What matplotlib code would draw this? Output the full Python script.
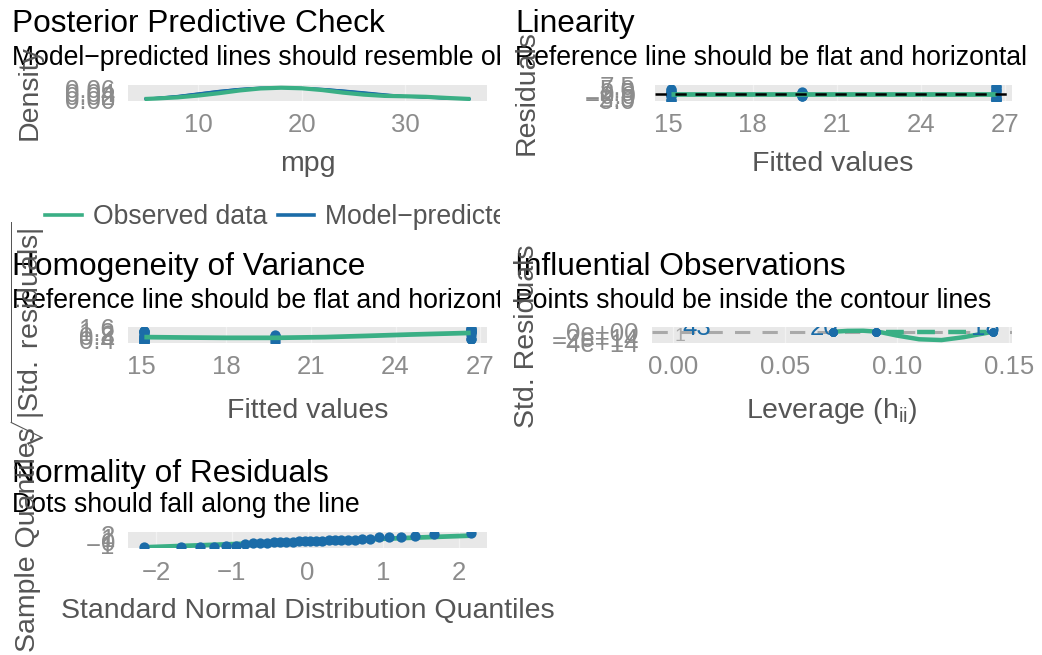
import matplotlib
matplotlib.use("Agg")
import matplotlib.pyplot as plt
from matplotlib.transforms import Bbox, TransformedBbox

plt.rcParams['font.family'] = ['Liberation Sans', 'DejaVu Sans']
plt.rcParams['mathtext.fontset'] = 'custom'
plt.rcParams['mathtext.rm'] = 'Liberation Sans'
plt.rcParams['mathtext.it'] = 'Liberation Sans:italic'
plt.rcParams['mathtext.bf'] = 'Liberation Sans:bold'

W, H = 1042, 655
GREEN = '#3aaf85'
BLUE = '#1b6ca8'
TICK_GREY = '#8c8c8c'
AXIS_GREY = '#555555'
PANEL = '#e8e8e8'
GRID = '#f2f2f2'

# ---- posterior predictive check: density curves over mpg ----
mpg_grid = [4.8, 6, 8, 10, 12, 14, 16, 18, 20, 22, 24, 26, 28, 30, 32, 34, 36.3]
obs_density = [0.003, 0.006, 0.012, 0.022, 0.035, 0.050, 0.061, 0.065, 0.062,
               0.052, 0.038, 0.027, 0.020, 0.018, 0.015, 0.009, 0.003]
pred_density = [
    [0.004, 0.009, 0.019, 0.033, 0.047, 0.059, 0.066, 0.066, 0.063, 0.059, 0.049, 0.038, 0.027, 0.018, 0.011, 0.006, 0.003],
    [0.003, 0.008, 0.017, 0.030, 0.044, 0.057, 0.064, 0.067, 0.064, 0.057, 0.047, 0.036, 0.025, 0.016, 0.010, 0.005, 0.002],
    [0.004, 0.010, 0.020, 0.034, 0.048, 0.058, 0.063, 0.064, 0.061, 0.058, 0.050, 0.040, 0.029, 0.019, 0.012, 0.006, 0.003],
]
ppc_yticks = [0.00, 0.02, 0.04, 0.06]
ppc_xticks = [10, 20, 30]

# ---- fitted values, residuals and leverage (three cylinder groups) ----
fitted = [15.1] * 14 + [19.74] * 7 + [26.66] * 11
residuals = [3.6, -0.8, 1.3, 2.2, 0.1, -4.7, -4.7, -0.4, 0.4, 0.1, -1.8, 0.7, -0.1, 4.1,
             1.26, 1.26, 1.66, -1.64, -0.54, -1.94, -0.04,
             -3.86, -2.26, -3.86, 5.74, 3.74, 7.24, -5.16, 0.64, -0.66, 3.74, -5.26]
sqrt_abs_std_resid = [1.077, 0.508, 0.647, 0.842, 0.179, 1.230, 1.230, 0.359, 0.359, 0.179, 0.761, 0.475, 0.179, 1.149,
                      0.650, 0.650, 0.746, 0.741, 0.425, 0.806, 0.116,
                      1.121, 0.858, 1.121, 1.367, 1.103, 1.535, 1.296, 0.456, 0.463, 1.103, 1.308]
std_resid = [1.159, -0.258, 0.419, 0.708, 0.032, -1.513, -1.513, -0.129, 0.129, 0.032, -0.580, 0.225, -0.032, 1.320,
             0.422, 0.422, 0.556, -0.550, -0.181, -0.650, -0.013,
             -1.256, -0.735, -1.256, 1.868, 1.217, 2.356, -1.679, 0.208, -0.215, 1.217, -1.712]
leverage = [0.0714] * 14 + [0.1429] * 7 + [0.0909] * 11

lin_smooth_x = [15.1, 19.74, 26.66]
lin_smooth_y = [0.0, 0.0, 0.0]
lin_yticks = [-5.0, -2.5, 0.0, 2.5, 5.0, 7.5]
fit_xticks = [15, 18, 21, 24, 27]

hom_smooth_x = [15.1, 16.5, 18.0, 19.74, 21.5, 23.0, 24.5, 26.0, 26.66]
hom_smooth_y = [0.62, 0.58, 0.55, 0.55, 0.62, 0.74, 0.87, 0.98, 1.03]
hom_yticks = [0.4, 0.8, 1.2, 1.6]

infl_smooth_x = [0.0714, 0.078, 0.085, 0.092, 0.100, 0.110, 0.120, 0.130, 0.1429]
infl_smooth_y = [0.0, 0.35e14, 0.40e14, 0.0, -1.4e14, -2.8e14, -3.1e14, -2.0e14, 0.0]
contour_x = [0.095, 0.140]
contour_y = [0.0, 0.0]
infl_yticks = [-4e14, -2e14, 0.0]
infl_ylabels = ['\u22124e+14', '\u22122e+14', '0e+00']
lev_xticks = [0.00, 0.05, 0.10, 0.15]
point_labels = [('43', 0.004), ('20', 0.061), ('18', 0.133)]

# ---- normal QQ ----
theoretical_q = [-2.154, -1.676, -1.418, -1.230, -1.078, -0.947, -0.831, -0.725, -0.626, -0.533,
                 -0.445, -0.360, -0.278, -0.197, -0.118, -0.039, 0.039, 0.118, 0.197, 0.278,
                 0.360, 0.445, 0.533, 0.626, 0.725, 0.831, 0.947, 1.078, 1.230, 1.418, 1.676, 2.154]
sample_q = [-1.712, -1.679, -1.513, -1.513, -1.256, -1.256, -0.735, -0.650, -0.580, -0.550,
            -0.258, -0.215, -0.181, -0.129, -0.032, -0.013, 0.032, 0.032, 0.129, 0.208,
            0.225, 0.419, 0.422, 0.422, 0.556, 0.708, 1.159, 1.217, 1.217, 1.320, 1.868, 2.356]
qq_line_x = [-2.154, 2.154]
qq_line_y = [-1.72, 1.54]
qq_yticks = [-1, 0, 1, 2]
qq_xticks = [-2, -1, 0, 1, 2]


def minus(v, fmt):
    return (fmt % v).replace('-', '\u2212')


fig = plt.figure(figsize=(W / 100, H / 100), dpi=100)
left_clip = TransformedBbox(Bbox.from_extents(0, 0, 500 / W, 1), fig.transFigure)


def panel(x0, y0, x1, y1, ypad, xpad=9.0):
    ax = fig.add_axes([x0 / W, 1 - y1 / H, (x1 - x0) / W, (y1 - y0) / H])
    ax.set_facecolor(PANEL)
    for s in ax.spines.values():
        s.set_visible(False)
    ax.tick_params(axis='both', length=0, labelsize=18.5, labelcolor=TICK_GREY)
    ax.tick_params(axis='y', pad=ypad)
    ax.tick_params(axis='x', pad=xpad)
    ax.grid(axis='x', color=GRID, lw=1.0)
    ax.set_axisbelow(True)
    return ax


def ftext(x, y, s, clip=False, **kw):
    t = fig.text(x / W, 1 - y / H, s, **kw)
    if clip:
        t.set_clip_box(left_clip)
        t.set_clip_on(True)
    return t


def headings(x, y_title, y_sub, title, sub, clip=False):
    ftext(x, y_title, title, fontsize=22.8, color='black', va='baseline')
    ftext(x, y_sub, sub, clip=clip, fontsize=19.2, color='black', va='baseline')


# Posterior predictive check
ax1 = panel(128, 85, 487, 101, ypad=9.5)
for d in pred_density:
    ax1.plot(mpg_grid, d, color=BLUE, lw=1.5, solid_capstyle='butt')
ax1.plot(mpg_grid, obs_density, color=GREEN, lw=3.0, solid_capstyle='butt')
ax1.set_xlim(3.2, 37.9)
ax1.set_ylim(-0.008, 0.08)
ax1.set_xticks(ppc_xticks)
ax1.set_yticks(ppc_yticks, ['%.2f' % v for v in ppc_yticks])
headings(12, 32, 65, 'Posterior Predictive Check',
         'Model\u2212predicted lines should resemble observed data line', clip=True)
ftext(30, 93, 'Density', fontsize=20.5, color=AXIS_GREY, rotation=90, ha='center', va='center')
ftext(308, 171, 'mpg', fontsize=20.5, color=AXIS_GREY, ha='center', va='baseline')

# legend row
fig.add_artist(plt.Line2D([45 / W, 82 / W], [1 - 215 / H] * 2, color=GREEN, lw=2.6))
ftext(93, 224, 'Observed data', fontsize=19.2, color=AXIS_GREY, va='baseline', clip=True)
fig.add_artist(plt.Line2D([278 / W, 314 / W], [1 - 215 / H] * 2, color=BLUE, lw=2.6))
ftext(325, 224, 'Model\u2212predicted data', fontsize=19.2, color=AXIS_GREY, va='baseline', clip=True)

# Linearity
ax2 = panel(655, 85, 1012, 101, ypad=14)
ax2.scatter(fitted, residuals, s=55, color=BLUE, zorder=2, linewidths=0)
ax2.plot(lin_smooth_x, lin_smooth_y, color=GREEN, lw=3.4, zorder=3, solid_capstyle='butt')
ax2.axhline(0, color='black', lw=1.8, ls=(0, (4.5, 3.5)), zorder=4)
ax2.set_xlim(14.52, 27.24)
ax2.set_ylim(-5.885, 7.865)
ax2.set_xticks(fit_xticks)
ax2.set_yticks(lin_yticks, [minus(v, '%.1f') for v in lin_yticks])
headings(515, 32, 65, 'Linearity', 'Reference line should be flat and horizontal')
ftext(527, 93, 'Residuals', fontsize=20.5, color=AXIS_GREY, rotation=90, ha='center', va='center')
ftext(833, 171, 'Fitted values', fontsize=20.5, color=AXIS_GREY, ha='center', va='baseline')

# Homogeneity of variance
ax3 = panel(128, 327, 487, 343, ypad=9.5)
ax3.scatter(fitted, sqrt_abs_std_resid, s=55, color=BLUE, zorder=2, linewidths=0)
ax3.plot(hom_smooth_x, hom_smooth_y, color=GREEN, lw=3.4, zorder=3, solid_capstyle='butt')
ax3.set_xlim(14.52, 27.24)
ax3.set_ylim(0.045, 1.606)
ax3.set_xticks(fit_xticks)
ax3.set_yticks(hom_yticks, ['%.1f' % v for v in hom_yticks])
headings(12, 275, 308, 'Homogeneity of Variance', 'Reference line should be flat and horizontal', clip=True)
ftext(28, 336, r'$\sqrt{|\mathrm{Std.\ residuals}|}$', fontsize=20.5, color=AXIS_GREY,
      rotation=90, ha='center', va='center')
ftext(308, 418, 'Fitted values', fontsize=20.5, color=AXIS_GREY, ha='center', va='baseline')

# Influential observations
ax4 = panel(652, 327, 1012, 343, ypad=9.5)
ax4.axhline(0, color='#a9a9a9', lw=2.2, ls=(0, (5, 4)), zorder=1)
ax4.plot(contour_x, contour_y, color=GREEN, lw=3.2, ls=(0, (4, 3)), zorder=2)
ax4.plot(infl_smooth_x, infl_smooth_y, color=GREEN, lw=3.2, zorder=3, solid_capstyle='butt')
ax4.scatter(leverage, std_resid, s=36, color=BLUE, zorder=4, linewidths=0)
for lab, lx in point_labels:
    ax4.text(lx, 1.5e14, lab, color=BLUE, fontsize=18.5, ha='left', va='center', clip_on=True, zorder=5)
ax4.text(0.003, -1.9e14, '1', color='#a9a9a9', fontsize=14, ha='center', va='center', clip_on=True)
ax4.set_xlim(-0.0094, 0.1515)
ax4.set_ylim(-4.2e14, 1.8e14)
ax4.set_xticks(lev_xticks, ['%.2f' % v for v in lev_xticks])
ax4.set_yticks(infl_yticks, infl_ylabels)
headings(515, 275, 308, 'Influential Observations', 'Points should be inside the contour lines')
ftext(527, 336, 'Std. Residuals', fontsize=20.5, color=AXIS_GREY, rotation=90, ha='center', va='center')
ftext(832, 418, r'Leverage ($\mathrm{h}_{\mathrm{ii}}$)', fontsize=20.5, color=AXIS_GREY,
      ha='center', va='baseline')

# Normality of residuals
ax5 = panel(128, 532, 487, 548, ypad=9)
ax5.plot(qq_line_x, qq_line_y, color=GREEN, lw=3.4, zorder=2, solid_capstyle='butt')
ax5.scatter(theoretical_q, sample_q, s=55, color=BLUE, zorder=3, linewidths=0)
ax5.set_xlim(-2.37, 2.37)
ax5.set_ylim(-1.92, 2.56)
ax5.set_xticks(qq_xticks, [minus(v, '%d') for v in qq_xticks])
ax5.set_yticks(qq_yticks, [minus(v, '%d') for v in qq_yticks])
headings(12, 482, 512, 'Normality of Residuals', 'Dots should fall along the line')
ftext(28, 540, 'Sample Quantiles', fontsize=20.5, color=AXIS_GREY, rotation=90, ha='center', va='center')
ftext(308, 618, 'Standard Normal Distribution Quantiles', fontsize=20.5, color=AXIS_GREY,
      ha='center', va='baseline')

fig.savefig('out.png', dpi=100)
